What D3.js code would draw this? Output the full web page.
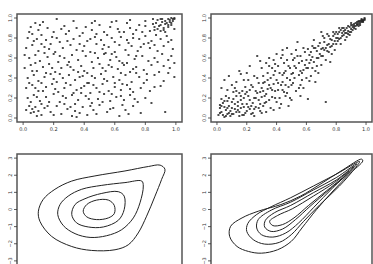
<!DOCTYPE html>
<html>
<head>
<meta charset="utf-8">
<script src="https://cdn.jsdelivr.net/npm/d3@7"></script>
<style>
  body { margin: 0; background: #fff; }
  svg { display: block; }
  .lab { font-family: "DejaVu Sans", sans-serif; font-size: 5px; fill: #333; }
</style>
</head>
<body>
<div id="chart"></div>
<script>
// scatter of the first copula sample (weak dependence, upper tail)
var pointsA = [
  [0.22,0.99],[0.58,0.96],[0.61,0.97],[0.85,0.99],[0.88,0.98],[0.9,0.99],[0.93,0.97],[0.95,0.99],[0.97,1.0],[0.99,0.99],
  [0.91,0.96],[0.96,0.96],[0.87,0.95],[0.98,0.97],[0.94,0.95],[0.13,0.96],[0.45,0.95],[0.96,0.98],[0.98,0.99],[0.99,1.0],
  [0.93,0.94],[0.89,0.92],[0.92,0.9],[0.97,0.95],[0.86,0.88],[0.9,0.87],[0.95,0.93],
  [0.05,0.91],[0.1,0.88],[0.16,0.9],[0.2,0.86],[0.27,0.92],[0.3,0.87],[0.35,0.9],[0.39,0.85],[0.45,0.88],[0.5,0.93],
  [0.53,0.86],[0.62,0.89],[0.66,0.86],[0.7,0.9],[0.74,0.88],[0.8,0.92],[0.83,0.87],[0.86,0.91],[0.88,0.89],[0.9,0.93],
  [0.92,0.88],[0.95,0.91],[0.97,0.93],[0.93,0.86],[0.99,0.89],[0.85,0.94],[0.08,0.95],[0.57,0.91],[0.78,0.86],
  [0.03,0.8],[0.07,0.77],[0.12,0.83],[0.15,0.78],[0.19,0.81],[0.24,0.76],[0.28,0.84],[0.33,0.79],[0.37,0.82],[0.42,0.77],
  [0.47,0.81],[0.51,0.78],[0.55,0.83],[0.6,0.76],[0.64,0.81],[0.68,0.78],[0.72,0.84],[0.76,0.79],[0.8,0.82],[0.84,0.77],
  [0.87,0.83],[0.9,0.79],[0.94,0.82],[0.97,0.78],[0.06,0.84],[0.22,0.8],[0.58,0.8],[0.82,0.75],
  [0.02,0.7],[0.06,0.73],[0.1,0.67],[0.14,0.71],[0.18,0.74],[0.21,0.66],[0.26,0.7],[0.31,0.73],[0.35,0.68],[0.4,0.72],
  [0.44,0.66],[0.48,0.74],[0.52,0.69],[0.56,0.71],[0.6,0.66],[0.63,0.73],[0.67,0.68],[0.71,0.72],[0.75,0.67],[0.79,0.74],
  [0.83,0.7],[0.88,0.67],[0.92,0.72],[0.98,0.69],[0.37,0.74],[0.54,0.65],[0.77,0.71],[0.12,0.74],
  [0.04,0.6],[0.08,0.63],[0.11,0.57],[0.16,0.61],[0.2,0.64],[0.23,0.56],[0.27,0.6],[0.32,0.63],[0.36,0.58],[0.41,0.62],
  [0.45,0.56],[0.49,0.6],[0.53,0.64],[0.57,0.58],[0.61,0.61],[0.65,0.55],[0.69,0.63],[0.73,0.59],[0.78,0.62],[0.82,0.57],
  [0.86,0.6],[0.91,0.64],[0.95,0.58],[0.99,0.55],[0.3,0.56],[0.47,0.65],[0.63,0.57],[0.14,0.65],
  [0.01,0.5],[0.05,0.53],[0.09,0.47],[0.13,0.51],[0.17,0.54],[0.21,0.46],[0.25,0.5],[0.29,0.53],[0.33,0.48],[0.38,0.52],
  [0.42,0.45],[0.46,0.5],[0.5,0.54],[0.54,0.47],[0.58,0.51],[0.62,0.49],[0.66,0.53],[0.7,0.46],[0.74,0.51],[0.79,0.48],
  [0.84,0.53],[0.89,0.46],[0.96,0.5],[0.36,0.46],[0.52,0.5],[0.68,0.55],[0.19,0.5],[0.08,0.55],
  [0.03,0.4],[0.07,0.43],[0.1,0.37],[0.14,0.41],[0.18,0.44],[0.22,0.36],[0.26,0.4],[0.3,0.43],[0.34,0.38],[0.39,0.42],
  [0.43,0.35],[0.47,0.4],[0.51,0.44],[0.55,0.37],[0.59,0.41],[0.63,0.38],[0.67,0.43],[0.71,0.36],[0.76,0.41],[0.81,0.38],
  [0.86,0.43],[0.92,0.37],[0.99,0.41],[0.24,0.44],[0.45,0.42],[0.6,0.35],[0.12,0.35],[0.74,0.45],
  [0.02,0.3],[0.06,0.33],[0.1,0.27],[0.15,0.31],[0.19,0.34],[0.23,0.26],[0.27,0.3],[0.31,0.33],[0.35,0.28],[0.4,0.32],
  [0.44,0.25],[0.48,0.3],[0.52,0.34],[0.56,0.27],[0.6,0.31],[0.64,0.28],[0.68,0.33],[0.72,0.26],[0.77,0.3],[0.83,0.27],
  [0.9,0.32],[0.33,0.25],[0.5,0.26],[0.08,0.3],[0.42,0.35],
  [0.03,0.2],[0.07,0.23],[0.11,0.17],[0.15,0.21],[0.2,0.24],[0.24,0.16],[0.28,0.2],[0.32,0.23],[0.36,0.18],[0.41,0.22],
  [0.45,0.15],[0.49,0.19],[0.53,0.24],[0.57,0.17],[0.61,0.21],[0.66,0.18],[0.7,0.23],[0.75,0.16],[0.8,0.2],[0.17,0.16],
  [0.38,0.25],[0.05,0.16],
  [0.04,0.12],[0.06,0.09],[0.08,0.11],[0.1,0.07],[0.05,0.05],[0.12,0.03],[0.14,0.1],[0.18,0.06],[0.22,0.12],[0.25,0.04],
  [0.29,0.09],[0.32,0.02],[0.34,0.07],[0.37,0.05],[0.39,0.11],[0.42,0.03],[0.46,0.08],[0.5,0.13],[0.55,0.06],[0.59,0.1],
  [0.63,0.02],[0.67,0.08],[0.72,0.12],[0.77,0.05],[0.09,0.02],[0.27,0.14],[0.44,0.12],[0.93,0.06],[0.02,0.08],[0.35,0.01],
  [0.11,0.93],[0.33,0.97],[0.41,0.91],[0.68,0.95],[0.76,0.93],[0.04,0.86],[0.25,0.89],[0.48,0.84],[0.72,0.8],[0.63,0.86],
  [0.09,0.79],[0.17,0.69],[0.29,0.77],[0.44,0.79],[0.53,0.73],[0.69,0.75],[0.86,0.73],[0.95,0.76],[0.01,0.63],[0.24,0.62],
  [0.39,0.67],[0.58,0.64],[0.74,0.62],[0.88,0.56],[0.97,0.62],[0.06,0.47],[0.15,0.45],[0.31,0.51],[0.4,0.47],[0.56,0.53],
  [0.64,0.45],[0.72,0.49],[0.81,0.44],[0.92,0.52],[0.04,0.35],[0.2,0.39],[0.28,0.35],[0.37,0.41],[0.53,0.39],[0.65,0.34],
  [0.79,0.35],[0.95,0.45],[0.13,0.27],[0.21,0.29],[0.38,0.3],[0.46,0.33],[0.58,0.24],[0.7,0.29],[0.86,0.31],[0.09,0.21],
  [0.26,0.22],[0.34,0.14],[0.43,0.19],[0.52,0.16],[0.64,0.22],[0.73,0.19],[0.16,0.12],[0.2,0.03],[0.31,0.11],[0.48,0.04],
  [0.57,0.09],[0.65,0.13],[0.69,0.04],[0.12,0.14],[0.07,0.06],[0.84,0.15],[0.47,0.97],[0.7,0.98],[0.8,0.97],[0.91,0.99]
];

// scatter of the second copula sample (strong dependence)
var pointsB = [
  [0.01,0.03],[0.02,0.1],[0.03,0.06],[0.04,0.15],[0.05,0.01],[0.06,0.08],[0.07,0.04],[0.08,0.12],[0.09,0.02],[0.03,0.19],
  [0.05,0.11],[0.07,0.17],[0.09,0.07],[0.02,0.13],[0.06,0.22],[0.08,0.05],[0.04,0.03],[0.1,0.1],
  [0.11,0.04],[0.12,0.14],[0.13,0.22],[0.14,0.08],[0.15,0.02],[0.16,0.18],[0.17,0.27],[0.18,0.11],[0.19,0.05],[0.12,0.3],
  [0.14,0.16],[0.16,0.1],[0.18,0.2],[0.2,0.14],[0.11,0.19],[0.13,0.06],[0.15,0.25],[0.17,0.03],[0.19,0.31],[0.2,0.07],
  [0.21,0.22],[0.22,0.09],[0.23,0.33],[0.24,0.15],[0.25,0.02],[0.26,0.27],[0.27,0.4],[0.28,0.18],[0.29,0.07],[0.3,0.3],
  [0.21,0.38],[0.23,0.12],[0.25,0.2],[0.27,0.25],[0.29,0.14],[0.22,0.28],[0.24,0.05],[0.26,0.11],[0.28,0.35],[0.3,0.21],
  [0.27,0.62],[0.2,0.26],
  [0.31,0.12],[0.32,0.36],[0.33,0.24],[0.34,0.45],[0.35,0.18],[0.36,0.3],[0.37,0.5],[0.38,0.08],[0.39,0.27],[0.4,0.38],
  [0.31,0.42],[0.33,0.06],[0.35,0.33],[0.37,0.21],[0.39,0.47],[0.32,0.15],[0.34,0.29],[0.36,0.4],[0.38,0.34],[0.4,0.16],
  [0.35,0.52],[0.31,0.27],
  [0.41,0.28],[0.42,0.45],[0.43,0.14],[0.44,0.36],[0.45,0.55],[0.46,0.22],[0.47,0.4],[0.48,0.31],[0.49,0.5],[0.5,0.18],
  [0.41,0.52],[0.43,0.33],[0.45,0.26],[0.47,0.58],[0.49,0.38],[0.42,0.2],[0.44,0.43],[0.46,0.47],[0.48,0.12],[0.5,0.44],
  [0.46,0.33],[0.43,0.6],
  [0.51,0.35],[0.52,0.52],[0.53,0.27],[0.54,0.62],[0.55,0.43],[0.56,0.33],[0.57,0.57],[0.58,0.48],[0.59,0.66],[0.6,0.4],
  [0.51,0.45],[0.53,0.68],[0.55,0.55],[0.57,0.38],[0.59,0.53],[0.52,0.6],[0.54,0.76],[0.56,0.47],[0.58,0.3],[0.6,0.58],
  [0.61,0.19],[0.56,0.22],
  [0.61,0.5],[0.62,0.63],[0.63,0.42],[0.64,0.72],[0.65,0.56],[0.66,0.47],[0.67,0.67],[0.68,0.6],[0.69,0.75],[0.7,0.53],
  [0.61,0.69],[0.63,0.58],[0.65,0.78],[0.67,0.52],[0.69,0.64],[0.62,0.37],[0.64,0.61],[0.66,0.7],[0.68,0.45],[0.7,0.69],
  [0.66,0.36],[0.73,0.16],
  [0.71,0.62],[0.72,0.76],[0.73,0.7],[0.74,0.84],[0.75,0.66],[0.76,0.79],[0.77,0.72],[0.78,0.86],[0.79,0.68],[0.8,0.8],
  [0.71,0.82],[0.73,0.58],[0.75,0.74],[0.77,0.64],[0.79,0.77],[0.72,0.68],[0.74,0.73],[0.76,0.71],[0.78,0.82],[0.8,0.74],
  [0.76,0.56],[0.7,0.86],
  [0.81,0.77],[0.82,0.86],[0.83,0.8],[0.84,0.9],[0.85,0.83],[0.86,0.88],[0.87,0.81],[0.88,0.92],[0.89,0.86],[0.9,0.89],
  [0.81,0.84],[0.83,0.74],[0.85,0.87],[0.87,0.9],[0.89,0.83],[0.82,0.79],[0.84,0.85],[0.86,0.78],[0.88,0.87],[0.9,0.93],
  [0.83,0.88],[0.87,0.85],
  [0.91,0.91],[0.92,0.94],[0.93,0.92],[0.94,0.96],[0.95,0.94],[0.96,0.97],[0.97,0.96],[0.98,0.98],[0.99,0.99],[0.91,0.88],
  [0.93,0.95],[0.95,0.96],[0.97,0.98],[0.92,0.9],[0.94,0.93],[0.96,0.95],[0.98,0.97],[0.99,1.0],[0.93,0.89],[0.95,0.92],
  [0.97,0.99],[0.9,0.95],
  [0.02,0.05],[0.03,0.12],[0.05,0.17],[0.06,0.02],[0.07,0.1],[0.08,0.2],[0.1,0.04],[0.1,0.16],[0.12,0.09],[0.13,0.27],
  [0.14,0.12],[0.15,0.06],[0.16,0.22],[0.17,0.14],[0.18,0.03],[0.19,0.24],[0.21,0.11],[0.22,0.18],[0.23,0.04],[0.24,0.31],
  [0.25,0.09],[0.26,0.2],[0.28,0.1],[0.29,0.26],[0.3,0.05],[0.31,0.35],[0.32,0.22],[0.33,0.16],[0.34,0.38],[0.36,0.1],
  [0.37,0.28],[0.38,0.43],[0.39,0.2],[0.41,0.35],[0.42,0.1],[0.44,0.28],[0.45,0.45],[0.47,0.25],[0.48,0.52],[0.49,0.2],
  [0.5,0.33],[0.51,0.58],[0.52,0.4],[0.53,0.5],[0.55,0.3],[0.56,0.62],[0.57,0.45],[0.58,0.7],[0.6,0.5],[0.62,0.55],
  [0.63,0.66],[0.64,0.5],[0.65,0.7],[0.67,0.6],[0.68,0.72],[0.7,0.62],[0.71,0.7],[0.72,0.8],[0.74,0.67],[0.75,0.82],
  [0.77,0.78],[0.78,0.74],[0.79,0.84],[0.81,0.8],[0.82,0.9],[0.84,0.82],[0.85,0.9],[0.86,0.85],[0.88,0.84],[0.89,0.91],
  [0.91,0.93],[0.92,0.92],[0.94,0.94],[0.95,0.97],[0.96,0.93],[0.97,0.97],[0.98,0.96],[0.99,0.98],[0.9,0.86],[0.8,0.86],
  [0.33,0.55],[0.44,0.63],
  [0.03,0.3],[0.05,0.38],[0.08,0.42],[0.1,0.33],[0.15,0.47],[0.16,0.44],[0.13,0.36],[0.2,0.45],[0.22,0.52],[0.25,0.42],
  [0.3,0.5],[0.29,0.57],[0.35,0.6],[0.38,0.58],[0.4,0.64],[0.44,0.68],[0.47,0.7],[0.5,0.64],[0.39,0.54],[0.18,0.38],
  [0.11,0.26],[0.07,0.28]
];

// contour lines of the first density (normal margins), outer to inner
var contoursA = [
  [[2.38,2.59],[2.57,2.35],[2.44,1.76],[2.18,0.78],[1.85,-0.39],[1.52,-1.37],[1.13,-2.06],[0.61,-2.35],[-0.31,-2.39],
   [-1.09,-2.16],[-1.88,-1.57],[-2.34,-0.69],[-2.40,-0.10],[-2.21,0.59],[-1.75,1.18],[-1.09,1.66],[-0.18,1.96],[1.00,2.25],[1.92,2.51]],
  [[1.66,1.66],[1.72,1.37],[1.59,0.39],[1.33,-0.49],[0.87,-1.18],[0.28,-1.53],[-0.37,-1.63],[-0.96,-1.41],[-1.42,-0.94],
   [-1.64,-0.29],[-1.55,0.29],[-1.23,0.78],[-0.70,1.18],[0.09,1.41],[1.00,1.57]],
  [[-1.09,-0.29],[-0.96,0.29],[-0.57,0.63],[0.09,0.94],[0.74,1.04],[0.97,0.78],[0.97,0.0],[0.74,-0.63],[0.15,-1.02],
   [-0.44,-1.02],[-0.90,-0.78]],
  [[-0.64,-0.10],[-0.50,0.29],[-0.11,0.55],[0.35,0.55],[0.58,0.24],[0.58,-0.24],[0.35,-0.49],[-0.11,-0.59],[-0.50,-0.43]]
];

// contour lines of the second density, outer to inner
var contoursB = [
  [[2.82,2.94],[2.06,2.31],[1.15,1.47],[0.36,0.78],[-0.42,0.29],[-1.34,-0.10],[-1.99,-0.49],[-2.45,-0.98],[-2.49,-1.57],
   [-2.19,-2.16],[-1.73,-2.45],[-1.21,-2.55],[-0.56,-2.35],[-0.01,-1.86],[0.42,-1.08],[1.01,0.0],[1.67,1.08],[2.32,2.06],[2.87,2.84]],
  [[2.74,2.80],[1.80,2.06],[0.88,1.37],[-0.03,0.69],[-0.82,0.16],[-1.40,-0.29],[-1.76,-0.82],[-1.80,-1.28],[-1.54,-1.76],
   [-1.08,-2.02],[-0.49,-1.92],[-0.01,-1.47],[0.49,-0.69],[1.15,0.29],[1.93,1.37],[2.58,2.45]],
  [[2.63,2.67],[1.80,1.86],[0.88,1.14],[-0.03,0.43],[-0.82,-0.04],[-1.34,-0.59],[-1.40,-1.08],[-1.21,-1.47],[-0.75,-1.61],
   [-0.23,-1.37],[0.29,-0.78],[0.88,0.10],[1.67,1.28],[2.38,2.25]],
  [[2.52,2.51],[1.80,1.72],[0.88,0.98],[-0.03,0.24],[-0.69,-0.19],[-1.05,-0.63],[-1.08,-1.02],[-0.82,-1.28],[-0.36,-1.14],
   [0.16,-0.59],[0.75,0.19],[1.54,1.18],[2.25,2.06]],
  [[2.32,2.25],[1.73,1.57],[0.88,0.78],[0.03,0.04],[-0.56,-0.35],[-0.88,-0.69],[-0.75,-0.94],[-0.36,-0.88],[0.10,-0.49],
   [0.69,0.24],[1.40,1.08],[2.06,1.86]]
];

var unitTicks = [0, 0.2, 0.4, 0.6, 0.8, 1.0];
var normTicks = [-3, -2, -1, 0, 1, 2, 3];

var svg = d3.select("#chart")
    .append("svg")
    .attr("width", 373)
    .attr("height", 264);

function panel(left, right, top, bottom, domain, ticks, fmt, showX) {
    var x = d3.scaleLinear().domain(domain).range([left, right]);
    var y = d3.scaleLinear().domain(domain).range([bottom, top]);
    var g = svg.append("g");

    g.append("rect")
        .attr("x", left).attr("y", top)
        .attr("width", right - left).attr("height", bottom - top)
        .attr("fill", "none")
        .attr("stroke", "#555")
        .attr("stroke-width", 1.5);

    // y ticks
    g.selectAll(".yt").data(ticks).enter().append("line")
        .attr("x1", left - 3).attr("x2", left)
        .attr("y1", function(d) { return y(d); })
        .attr("y2", function(d) { return y(d); })
        .attr("stroke", "#333").attr("stroke-width", 0.8);
    g.selectAll(".yl").data(ticks).enter().append("text")
        .attr("class", "lab")
        .attr("text-anchor", "middle")
        .attr("transform", function(d) { return "translate(" + (left - 5) + "," + y(d) + ")rotate(-90)"; })
        .text(fmt);

    // x ticks (bottom panels have theirs below the picture)
    if (showX) {
        g.selectAll(".xt").data(ticks).enter().append("line")
            .attr("y1", bottom).attr("y2", bottom + 3)
            .attr("x1", function(d) { return x(d); })
            .attr("x2", function(d) { return x(d); })
            .attr("stroke", "#333").attr("stroke-width", 0.8);
        g.selectAll(".xl").data(ticks).enter().append("text")
            .attr("class", "lab")
            .attr("text-anchor", "middle")
            .attr("x", function(d) { return x(d); })
            .attr("y", bottom + 9)
            .text(fmt);
    }

    return { g: g, x: x, y: y };
}

function scatter(p, data) {
    p.g.selectAll(".pt").data(data).enter().append("rect")
        .attr("x", function(d) { return p.x(d[0]) - 1; })
        .attr("y", function(d) { return p.y(d[1]) - 0.8; })
        .attr("width", 2)
        .attr("height", 1.6)
        .attr("fill", "#222");
}

function contours(p, data) {
    var line = d3.line()
        .x(function(d) { return p.x(d[0]); })
        .y(function(d) { return p.y(d[1]); })
        .curve(d3.curveCatmullRomClosed.alpha(0.5));
    p.g.selectAll(".ct").data(data).enter().append("path")
        .attr("d", line)
        .attr("fill", "none")
        .attr("stroke", "#222")
        .attr("stroke-width", 1);
}

var f1 = d3.format(".1f");
var f0 = d3.format("d");

scatter(panel(17, 182, 14, 122, [-0.04, 1.04], unitTicks, f1, true), pointsA);
scatter(panel(211, 372, 14, 122, [-0.04, 1.04], unitTicks, f1, true), pointsB);
contours(panel(17, 182, 154, 265, [-3.24, 3.24], normTicks, f0, false), contoursA);
contours(panel(211, 372, 154, 265, [-3.24, 3.24], normTicks, f0, false), contoursB);
</script>
</body>
</html>
